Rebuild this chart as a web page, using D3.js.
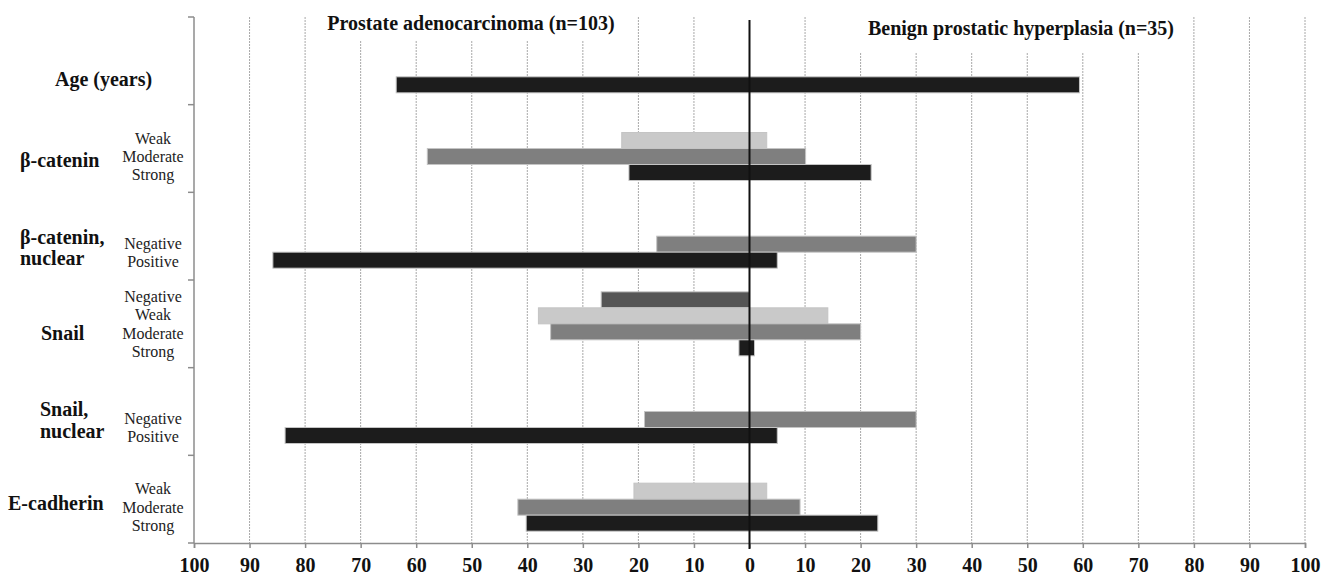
<!DOCTYPE html>
<html>
<head>
<meta charset="utf-8">
<script src="https://cdn.jsdelivr.net/npm/d3@7/dist/d3.min.js"></script>
<style>
  html, body { margin: 0; padding: 0; background: #fff; }
  svg { display: block; }
</style>
</head>
<body>
<svg id="chart" width="1326" height="575"></svg>
<script>
// ---------------- DATA ----------------
const categories = ["Age", "bcat", "bcatNuc", "Snail", "SnailNuc", "Ecad"];
const categoryLabels = [["Age (years)"], ["β-catenin"], ["β-catenin,", "nuclear"], ["Snail"], ["Snail,", "nuclear"], ["E-cadherin"]];
const subLabels = [[], ["Weak", "Moderate", "Strong"], ["Negative", "Positive"], ["Negative", "Weak", "Moderate", "Strong"], ["Negative", "Positive"], ["Weak", "Moderate", "Strong"]];
const seriesNames = ["dark", "light", "medium", "black"];
const seriesColors = ["#555555", "#c9c9c9", "#7f7f7f", "#1c1c1c"];
// Prostate adenocarcinoma (left side, %), per series, per category
const leftDark   = [null, null, null, 26.7, null, null];
const leftLight  = [null, 23, null, 38, null, 20.8];
const leftMedium = [null, 58, 16.7, 35.8, 18.9, 41.7];
const leftBlack  = [63.6, 21.7, 85.8, 1.9, 83.6, 40.2];
// Benign prostatic hyperplasia (right side, %)
const rightDark   = [null, null, null, 0, null, null];
const rightLight  = [null, 3.1, null, 14.1, null, 3.1];
const rightMedium = [null, 10.1, 30, 20, 30, 9.1];
const rightBlack  = [59.4, 21.9, 5, 0.9, 5, 23.1];
const xTicks = [-100, -90, -80, -70, -60, -50, -40, -30, -20, -10, 0, 10, 20, 30, 40, 50, 60, 70, 80, 90, 100];
const leftTitle = "Prostate adenocarcinoma (n=103)";
const rightTitle = "Benign prostatic hyperplasia (n=35)";

(function () {
// ---------------- BUILD ----------------
const leftVals = [leftDark, leftLight, leftMedium, leftBlack];
const rightVals = [rightDark, rightLight, rightMedium, rightBlack];
const bars = [];
categories.forEach((c, ci) => {
  seriesNames.forEach((s, si) => {
    const l = leftVals[si][ci], r = rightVals[si][ci];
    if (l !== null || r !== null) bars.push({cat: c, ser: s, color: seriesColors[si], left: l || 0, right: r || 0});
  });
});

const svg = d3.select("#chart");
const font = "'Liberation Serif', 'Times New Roman', serif";
const x = d3.scaleLinear().domain([-100, 100]).range([194, 1305]);
const y = d3.scaleBand().domain(categories).range([17, 543]).paddingInner(0).paddingOuter(0);
const ySub = d3.scaleBand().domain(seriesNames).range([0, y.bandwidth()]).paddingInner(0).paddingOuter(0.74);
const plotTop = 17, plotBottom = 543;

// gridlines
svg.append("g").selectAll("line")
  .data(xTicks.filter(t => t !== 0 && t !== -100))
  .join("line")
  .attr("x1", d => x(d)).attr("x2", d => x(d))
  .attr("y1", plotTop).attr("y2", plotBottom)
  .attr("stroke", "#a8a8a8").attr("stroke-width", 1)
  .attr("stroke-dasharray", "2,1");

// white boxes behind titles (hide gridlines there)
svg.append("rect").attr("x", 322).attr("y", 8).attr("width", 306).attr("height", 33).attr("fill", "#fff");
svg.append("rect").attr("x", 838).attr("y", 8).attr("width", 350).attr("height", 44).attr("fill", "#fff");

// bars
svg.append("g").selectAll("rect")
  .data(bars)
  .join("rect")
  .attr("x", d => x(-d.left))
  .attr("width", d => x(d.right) - x(-d.left))
  .attr("y", d => y(d.cat) + ySub(d.ser))
  .attr("height", ySub.bandwidth())
  .attr("fill", d => d.color)
  .attr("stroke", "#c4c4c4").attr("stroke-width", 1);

// left axis
const yAxisG = svg.append("g");
yAxisG.append("line").attr("x1", x(-100)).attr("x2", x(-100)).attr("y1", plotTop).attr("y2", plotBottom)
  .attr("stroke", "#8c8c8c").attr("stroke-width", 1.5);
const bounds = categories.map(c => y(c)).concat([plotBottom]);
yAxisG.selectAll("line.tick").data(bounds).join("line").attr("class", "tick")
  .attr("x1", x(-100) - 6).attr("x2", x(-100)).attr("y1", d => d).attr("y2", d => d)
  .attr("stroke", "#8c8c8c").attr("stroke-width", 1.5);

// bottom axis
const xAxis = d3.axisBottom(x).tickValues(xTicks).tickFormat(d => Math.abs(d)).tickSizeOuter(0).tickSize(5).tickPadding(10);
const xg = svg.append("g").attr("transform", `translate(0,${plotBottom})`).call(xAxis);
xg.select(".domain").attr("stroke", "#8c8c8c").attr("stroke-width", 1.5);
xg.selectAll(".tick line").attr("stroke", "#8c8c8c").attr("stroke-width", 1.5);
xg.selectAll(".tick text").attr("font-family", font).attr("font-size", 20).attr("font-weight", "bold").attr("fill", "#111");

// zero line
svg.append("line").attr("x1", x(0)).attr("x2", x(0)).attr("y1", 20).attr("y2", plotBottom + 6)
  .attr("stroke", "#111").attr("stroke-width", 2);

// titles
svg.append("text").attr("x", 471).attr("y", 23).attr("dy", "0.35em").attr("text-anchor", "middle")
  .attr("font-family", font).attr("font-size", 20).attr("font-weight", "bold").attr("fill", "#111").text(leftTitle);
svg.append("text").attr("x", 1021).attr("y", 28).attr("dy", "0.35em").attr("text-anchor", "middle")
  .attr("font-family", font).attr("font-size", 20).attr("font-weight", "bold").attr("fill", "#111").text(rightTitle);

// category labels
const labelLayout = [{x: 55, cy: 62}, {x: 20, cy: 55.3}, {x: 20, cy: 55}, {x: 41, cy: 53}, {x: 40, cy: 52.3}, {x: 8, cy: 47.7}];
const lineH = 21.5;
categories.forEach((c, ci) => {
  const lines = categoryLabels[ci];
  const cy = y(c) + labelLayout[ci].cy;
  lines.forEach((t, li) => {
    svg.append("text").attr("x", labelLayout[ci].x)
      .attr("y", cy + (li - (lines.length - 1) / 2) * lineH).attr("dy", "0.35em")
      .attr("font-family", font).attr("font-size", 20).attr("font-weight", "bold").attr("fill", "#111").text(t);
  });
  const subs = subLabels[ci];
  if (subs.length) {
    const used = bars.filter(b => b.cat === c).map(b => y(c) + ySub(b.ser) + ySub.bandwidth() / 2);
    const mid = d3.mean(used);
    const sh = 18.3;
    subs.forEach((t, si) => {
      svg.append("text").attr("x", 153).attr("y", mid + (si - (subs.length - 1) / 2) * sh).attr("dy", "0.35em")
        .attr("text-anchor", "middle").attr("font-family", font).attr("font-size", 16).attr("fill", "#222").text(t);
    });
  }
});
})();
</script>
</body>
</html>
